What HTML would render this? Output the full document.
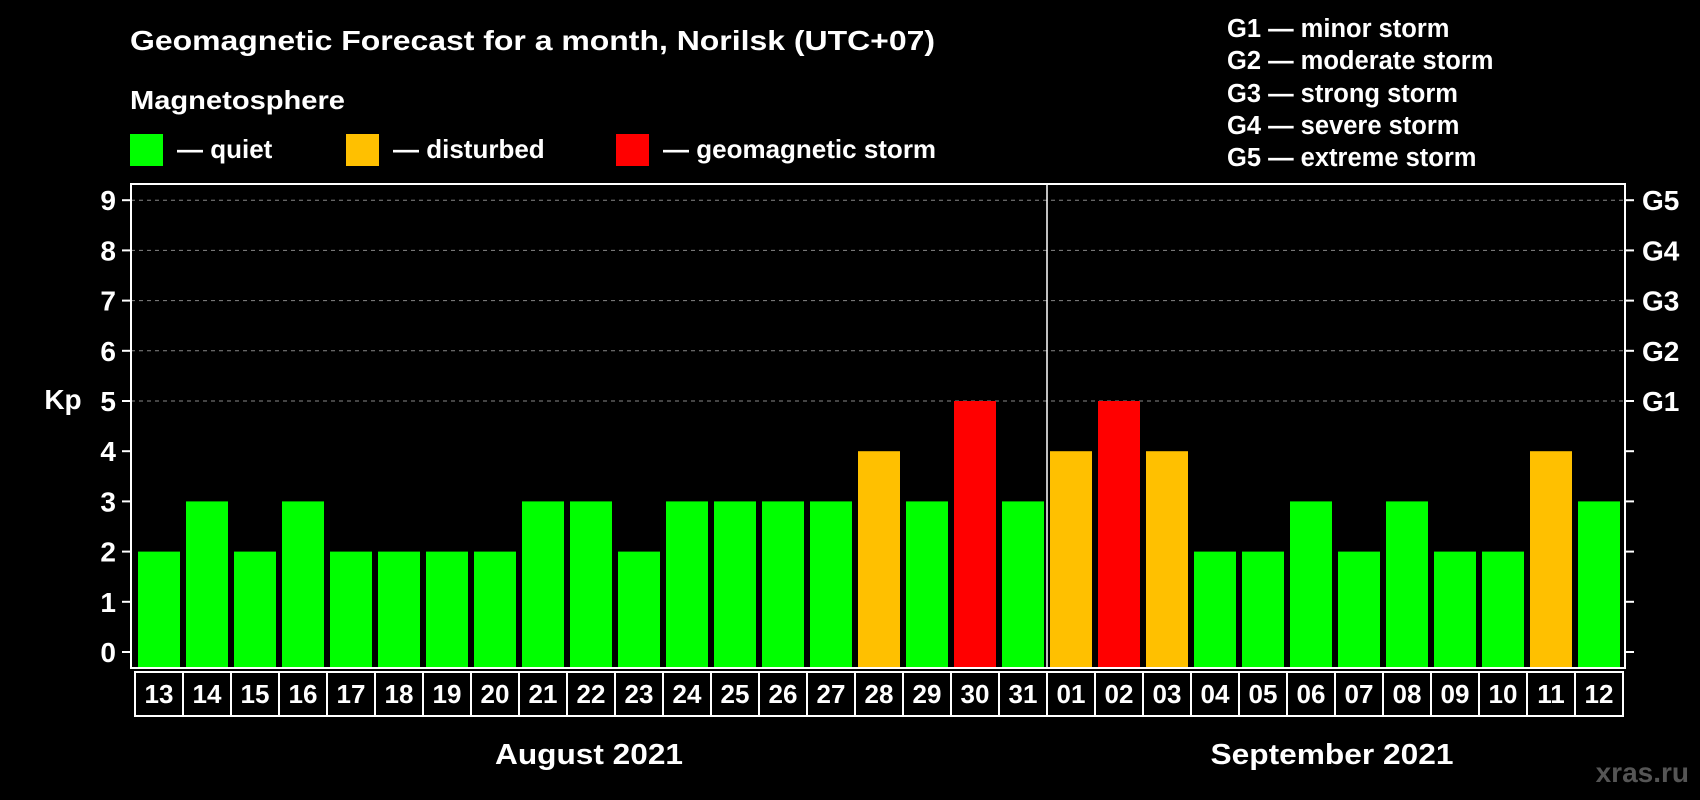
<!DOCTYPE html>
<html><head><meta charset="utf-8"><style>
html,body{margin:0;padding:0;background:#000;}
svg{display:block;font-family:"Liberation Sans",Arial,sans-serif;font-weight:bold;}
</style></head><body>
<svg id="chart" width="1700" height="800" viewBox="0 0 1700 800">
<rect x="0" y="0" width="1700" height="800" fill="#000"/>
<text x="130" y="50" font-size="28" fill="#fff" textLength="805" lengthAdjust="spacingAndGlyphs">Geomagnetic Forecast for a month, Norilsk (UTC+07)</text>
<text x="130" y="109" font-size="26" fill="#fff" textLength="215" lengthAdjust="spacingAndGlyphs">Magnetosphere</text>
<g>
<rect x="130" y="134" width="33" height="32" fill="#00ff00"/>
<text x="177" y="158" font-size="26" fill="#fff">— quiet</text></g>
<g>
<rect x="346" y="134" width="33" height="32" fill="#ffc000"/>
<text x="393" y="158" font-size="26" fill="#fff">— disturbed</text></g>
<g>
<rect x="616" y="134" width="33" height="32" fill="#ff0000"/>
<text x="663" y="158" font-size="26" fill="#fff">— geomagnetic storm</text></g>
<g font-size="25.5" fill="#fff">
<text x="1227" y="37">G1 — minor storm</text>
<text x="1227" y="69">G2 — moderate storm</text>
<text x="1227" y="102">G3 — strong storm</text>
<text x="1227" y="134">G4 — severe storm</text>
<text x="1227" y="166">G5 — extreme storm</text>
</g>
<text x="63" y="409" font-size="28" fill="#fff" text-anchor="middle">Kp</text>
<g id="grid"></g><g id="bars"></g><g id="axes"></g><g id="dates"></g>
<text x="589" y="764" font-size="29" fill="#fff" text-anchor="middle" textLength="188" lengthAdjust="spacingAndGlyphs">August 2021</text>
<text x="1332" y="764" font-size="29" fill="#fff" text-anchor="middle" textLength="243" lengthAdjust="spacingAndGlyphs">September 2021</text>
<text x="1689" y="782" font-size="28" fill="#555" text-anchor="end">xras.ru</text>
</svg>
<script>
const days = ["13","14","15","16","17","18","19","20","21","22","23","24","25","26","27","28","29","30","31","01","02","03","04","05","06","07","08","09","10","11","12"];
const kpValues = [2,3,2,3,2,2,2,2,3,3,2,3,3,3,3,4,3,5,3,4,5,4,2,2,3,2,3,2,2,4,3];
const yTicks = [0,1,2,3,4,5,6,7,8,9];
const gLabels = ["G1","G2","G3","G4","G5"];
const gLevels = [5,6,7,8,9];
const monthBreakIndex = 19;

const NS="http://www.w3.org/2000/svg";
const left=135, slot=48, plotL=131, plotR=1625, plotT=184, plotB=668;
const y0=652, unit=50.2;
function yScale(v){return y0-unit*v;}
function xScale(i){return left+i*slot;}
function mk(tag,attrs,parent){const e=document.createElementNS(NS,tag);for(const k in attrs)e.setAttribute(k,attrs[k]);parent.appendChild(e);return e;}
function color(v){return v>=5?"#ff0000":(v>=4?"#ffc000":"#00ff00");}
const grid=document.getElementById('grid'),bars=document.getElementById('bars'),axes=document.getElementById('axes'),dates=document.getElementById('dates');
gLevels.forEach(v=>{
  const l=mk('line',{x1:plotL,x2:plotR,y1:yScale(v),y2:yScale(v),stroke:"#888","stroke-width":1,"stroke-dasharray":"4,4"},grid);
  
  
});
kpValues.forEach((v,i)=>{
  const r=mk('rect',{x:xScale(i)+3,y:yScale(v),width:42,height:plotB-yScale(v),fill:color(v)},bars);
  
  
});
const frame=mk('rect',{x:plotL,y:plotT,width:plotR-plotL,height:plotB-plotT,fill:"none",stroke:"#fff","stroke-width":2},axes);


const sep=mk('line',{x1:xScale(monthBreakIndex),x2:xScale(monthBreakIndex),y1:plotT,y2:plotB,stroke:"#fff","stroke-width":1.5},axes);


yTicks.forEach(v=>{
  const y=yScale(v);
  const t=mk('line',{x1:122,x2:plotL,y1:y,y2:y,stroke:"#fff","stroke-width":2},axes);
  
  
  const t2=mk('line',{x1:plotR,x2:plotR+9,y1:y,y2:y,stroke:"#fff","stroke-width":2},axes);
  
  
  const lb=mk('text',{x:116,y:y+10,"font-size":28,fill:"#fff","text-anchor":"end"},axes);
  lb.textContent=String(v);
  
  
});
gLevels.forEach((v,i)=>{
  const lb=mk('text',{x:1642,y:yScale(v)+10,"font-size":28,fill:"#fff"},axes);
  lb.textContent=gLabels[i];
  
  
});
days.forEach((d,i)=>{
  const c=mk('rect',{x:xScale(i),y:672,width:slot,height:44,fill:"none",stroke:"#fff","stroke-width":2},dates);
  
  
  const t=mk('text',{x:xScale(i)+slot/2,y:703,"font-size":26,fill:"#fff","text-anchor":"middle"},dates);
  t.textContent=d;
  
  
});
</script>
</body></html>
